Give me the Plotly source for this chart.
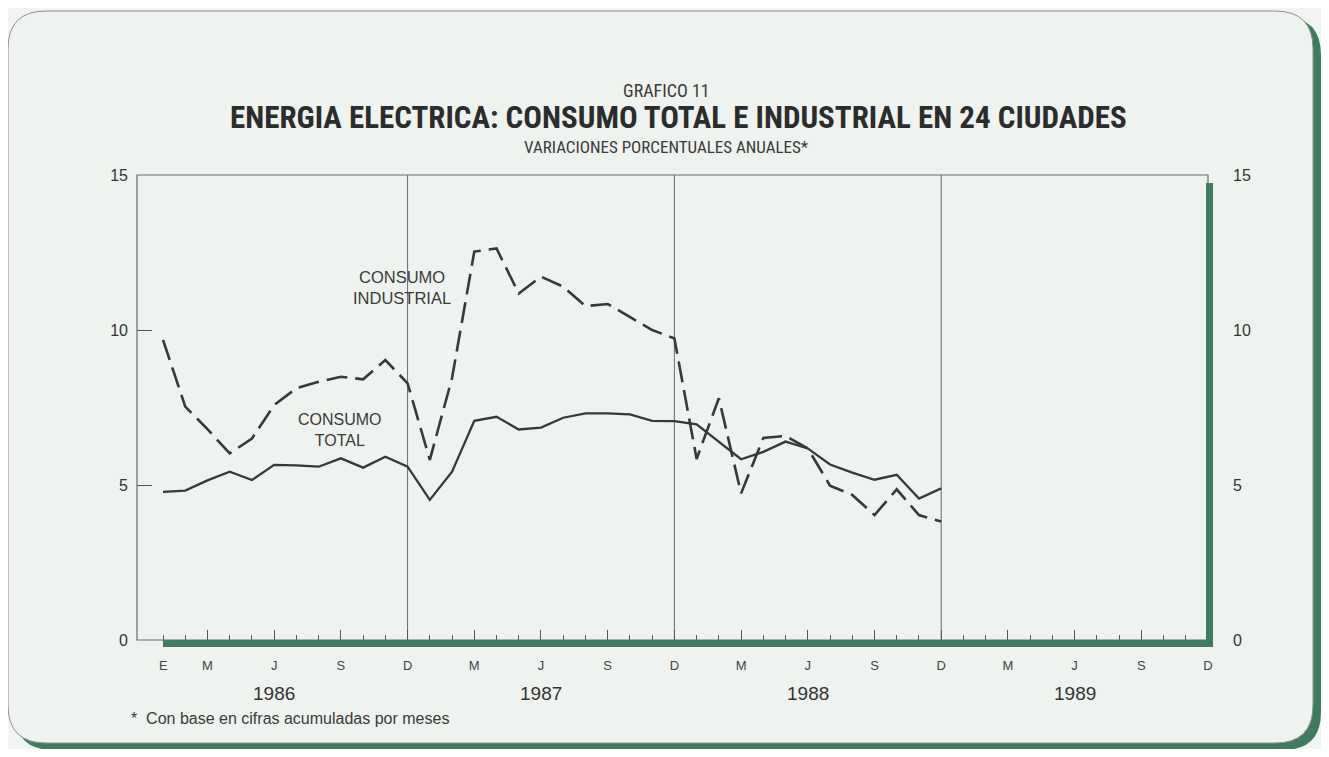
import plotly.graph_objects as go

# ---------------- data ----------------
months = list(range(1, 37))  # Jan 1986 = 1 ... Dec 1988 = 36
consumo_total = [4.78, 4.82, 5.15, 5.43, 5.16, 5.65, 5.63, 5.59, 5.86, 5.56, 5.91, 5.59,
                 4.52, 5.43, 7.07, 7.20, 6.79, 6.85, 7.17, 7.31, 7.31, 7.28, 7.07, 7.06,
                 6.96, 6.38, 5.83, 6.07, 6.40, 6.18, 5.66, 5.40, 5.17, 5.33, 4.56, 4.89]
consumo_industrial = [9.68, 7.53, 6.80, 6.02, 6.50, 7.58, 8.12, 8.33, 8.49, 8.41, 9.03, 8.28,
                      5.81, 8.45, 12.53, 12.63, 11.18, 11.72, 11.40, 10.77, 10.84, 10.43, 10.00, 9.73,
                      5.84, 7.80, 4.73, 6.52, 6.58, 6.18, 4.98, 4.68, 4.03, 4.86, 4.03, 3.82]

major_ticks = [3, 6, 9, 12, 15, 18, 21, 24, 27, 30, 33, 36, 39, 42, 45, 48]
major_labels = ["M", "J", "S", "D"] * 4
minor_ticks = [m for m in range(1, 48) if m % 3 != 0]
first_label_x = 1
first_label = "E"
year_positions = [6, 18, 30, 42]
year_labels = ["1986", "1987", "1988", "1989"]
year_ends = [12, 24, 36]
y_ticks = [0, 5, 10, 15]

# ---------------- geometry (page pixels; body has an 8px margin) ----------------
OFF = 8
W, H = 1329 - 2 * OFF, 757 - 2 * OFF
PL, PR, PT, PB = 137, 1208, 175, 640  # plot area in page pixels


def px(x):
    return (x - PL) / (PR - PL)


def py(y):
    return (PB - y) / (PB - PT)


def rounded_path(x0, y0, x1, y1, r):
    pts = [
        f"M {px(x0 + r)},{py(y0)}",
        f"L {px(x1 - r)},{py(y0)}",
        f"Q {px(x1)},{py(y0)} {px(x1)},{py(y0 + r)}",
        f"L {px(x1)},{py(y1 - r)}",
        f"Q {px(x1)},{py(y1)} {px(x1 - r)},{py(y1)}",
        f"L {px(x0 + r)},{py(y1)}",
        f"Q {px(x0)},{py(y1)} {px(x0)},{py(y1 - r)}",
        f"L {px(x0)},{py(y0 + r)}",
        f"Q {px(x0)},{py(y0)} {px(x0 + r)},{py(y0)}",
        "Z",
    ]
    return " ".join(pts)


GREEN = "#3e7b60"
INK = "#383838"
NARROW = "Liberation Sans Narrow, Arial Narrow, Roboto Condensed, sans-serif"
SANS = "Liberation Sans, Arial, Helvetica, sans-serif"

fig = go.Figure()

fig.add_trace(go.Scatter(x=months, y=consumo_total, mode="lines",
                         line=dict(color=INK, width=2.3), showlegend=False, hoverinfo="skip"))
fig.add_trace(go.Scatter(x=months, y=consumo_industrial, mode="lines",
                         line=dict(color=INK, width=2.6, dash="21px,8px"),
                         showlegend=False, hoverinfo="skip"))
fig.add_trace(go.Scatter(x=[None], y=[None], yaxis="y2", showlegend=False, hoverinfo="skip"))

shapes = []
shapes.append(dict(type="path", xref="paper", yref="paper", layer="below",
                   path=rounded_path(15, 17, 1321, 750, 38),
                   fillcolor=GREEN, line=dict(width=0)))
shapes.append(dict(type="path", xref="paper", yref="paper", layer="below",
                   path=rounded_path(8, 11, 1313, 743, 38),
                   fillcolor="#eef3ef", line=dict(color="#8d918e", width=1)))
for xe in year_ends:
    shapes.append(dict(type="line", xref="x", yref="paper", x0=xe, x1=xe, y0=0, y1=1,
                       layer="below", line=dict(color="#6a6a6a", width=1)))
shapes.append(dict(type="rect", xref="paper", yref="paper", x0=0, x1=1, y0=0, y1=1,
                   layer="above", line=dict(color="#6a6a6a", width=1.2)))
shapes.append(dict(type="rect", xref="paper", yref="paper",
                   x0=px(1206), x1=px(1213), y0=py(647), y1=py(183),
                   layer="above", fillcolor=GREEN, line=dict(width=0)))
shapes.append(dict(type="rect", xref="x", yref="paper",
                   x0=first_label_x, x1=48, y0=py(647), y1=py(640),
                   layer="above", fillcolor=GREEN, line=dict(width=0)))
shapes.append(dict(type="rect", xref="paper", yref="paper",
                   x0=px(1200), x1=px(1213), y0=py(647), y1=py(640),
                   layer="above", fillcolor=GREEN, line=dict(width=0)))

annotations = []


def ann(text, x, y, xref="paper", yref="paper", size=14, family=SANS, color="#3a3a3a",
        xanchor="center"):
    annotations.append(dict(text=text, x=x, y=y, xref=xref, yref=yref, showarrow=False,
                            xanchor=xanchor, yanchor="middle",
                            font=dict(family=family, size=size, color=color)))


ann("GRAFICO 11", px(666), py(91), size=18, family=NARROW)
ann("<b>ENERGIA ELECTRICA: CONSUMO TOTAL E INDUSTRIAL EN 24 CIUDADES</b>", px(678), py(117),
    size=31, family=NARROW, color="#2c2c2c")
ann("VARIACIONES PORCENTUALES ANUALES*", px(666), py(147), size=17, family=NARROW)
ann("*  Con base en cifras acumuladas por meses", px(129), py(718), size=16,
    xanchor="left")
ann("CONSUMO<br>INDUSTRIAL", 11.75, 11.37, xref="x", yref="y", size=16.5)
ann("CONSUMO<br>TOTAL", 8.95, 6.77, xref="x", yref="y", size=16)
ann(first_label, first_label_x, py(665), xref="x", size=13, color="#444444")
for xp, lab in zip(year_positions, year_labels):
    ann(lab, xp, py(693), xref="x", size=19, color="#333333")

fig.update_layout(
    width=W, height=H,
    margin=dict(l=PL - OFF, r=W - (PR - OFF), t=PT - OFF, b=H - (PB - OFF), pad=0),
    paper_bgcolor="#f1f5f2",
    plot_bgcolor="#ffffff",
    showlegend=False,
    shapes=shapes,
    annotations=annotations,
    xaxis=dict(range=[-0.17, 48], showgrid=False, zeroline=False, showline=False,
               tickmode="array", tickvals=major_ticks, ticktext=major_labels,
               ticks="inside", ticklen=10, tickwidth=1.3, tickcolor="#555555",
               ticklabelstandoff=16,
               tickfont=dict(family=SANS, size=13, color="#444444"),
               minor=dict(tickmode="array", tickvals=minor_ticks, ticks="inside",
                          ticklen=5, tickwidth=1.3, tickcolor="#555555", showgrid=False),
               fixedrange=True),
    yaxis=dict(range=[0, 15], showgrid=False, zeroline=False, showline=False,
               tickmode="array", tickvals=y_ticks, ticks="inside", ticklen=15,
               tickwidth=1.3, tickcolor="#555555", ticklabelstandoff=8,
               tickfont=dict(family=SANS, size=16, color="#333333")),
    yaxis2=dict(range=[0, 15], overlaying="y", side="right", showgrid=False,
                zeroline=False, showline=False, tickmode="array", tickvals=y_ticks,
                ticks="", ticklabelstandoff=24,
                tickfont=dict(family=SANS, size=16, color="#333333")),
)

fig.write_html("out.html")
